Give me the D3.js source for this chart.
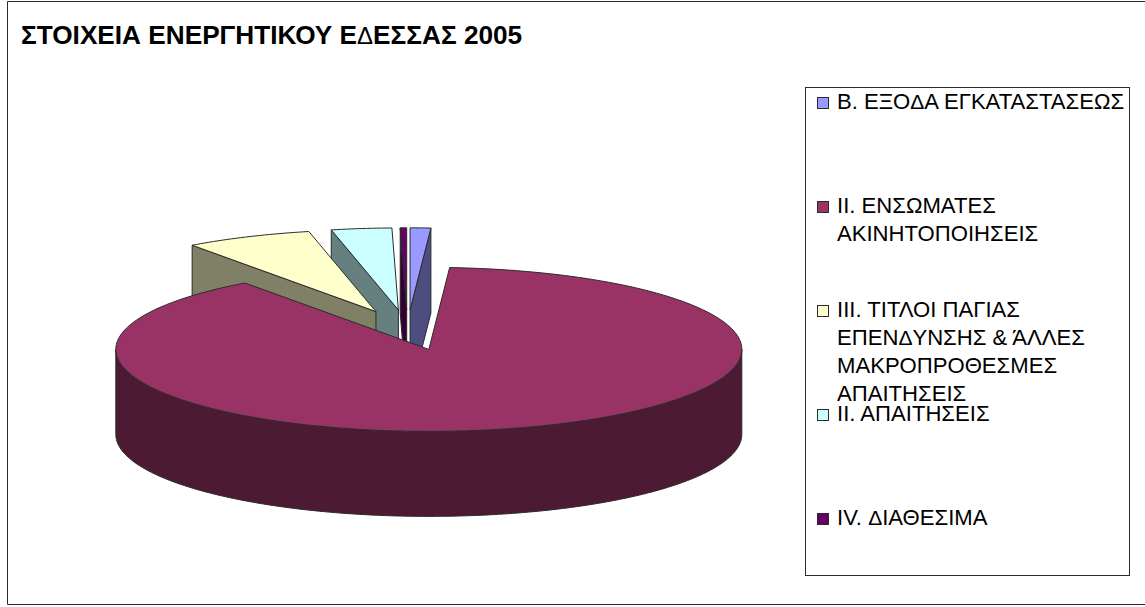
<!DOCTYPE html>
<html>
<head>
<meta charset="utf-8">
<style>
html,body{margin:0;padding:0;background:#fff;overflow:hidden}
svg{display:block}
text{font-family:"Liberation Sans",Arial,sans-serif;fill:#000}
</style>
<script src="https://cdn.jsdelivr.net/npm/d3@7"></script>
</head>
<body>
<svg id="c" width="1145" height="607"></svg>
<script>
const chartTitle = "ΣΤΟΙΧΕΙΑ ΕΝΕΡΓΗΤΙΚΟΥ ΕΔΕΣΣΑΣ 2005";
const categories = ["Β. ΕΞΟΔΑ ΕΓΚΑΤΑΣΤΑΣΕΩΣ","ΙΙ. ΕΝΣΩΜΑΤΕΣ ΑΚΙΝΗΤΟΠΟΙΗΣΕΙΣ","ΙΙΙ. ΤΙΤΛΟΙ ΠΑΓΙΑΣ ΕΠΕΝΔΥΝΣΗΣ & ΆΛΛΕΣ ΜΑΚΡΟΠΡΟΘΕΣΜΕΣ ΑΠΑΙΤΗΣΕΙΣ","ΙΙ. ΑΠΑΙΤΗΣΕΙΣ","ΙV. ΔΙΑΘΕΣΙΜΑ"];
const legendLines = [["Β. ΕΞΟΔΑ ΕΓΚΑΤΑΣΤΑΣΕΩΣ"],["ΙΙ. ΕΝΣΩΜΑΤΕΣ","ΑΚΙΝΗΤΟΠΟΙΗΣΕΙΣ"],["ΙΙΙ. ΤΙΤΛΟΙ ΠΑΓΙΑΣ","ΕΠΕΝΔΥΝΣΗΣ & ΆΛΛΕΣ","ΜΑΚΡΟΠΡΟΘΕΣΜΕΣ","ΑΠΑΙΤΗΣΕΙΣ"],["ΙΙ. ΑΠΑΙΤΗΣΕΙΣ"],["ΙV. ΔΙΑΘΕΣΙΜΑ"]];
const values = [1.06, 88.95, 6.55, 3.11, 0.33];
const topColors = ["#9999FF","#993366","#FFFFCC","#CCFFFF","#660066"];
const sideColors = ["#4D4D80","#4D1A33","#808066","#668080","#330033"];

const W=1145,H=607;
const cx=407.5, cy=330, rx=313, ry=82, depth=85, explode=77;
const svg=d3.select("#c");
const ink="#2b2b2b";

svg.append("rect").attr("width",W).attr("height",H).attr("fill","#fff");
svg.append("path").attr("d","M1145,1.5H7.5V604.5H1145").attr("fill","none").attr("stroke",ink).attr("stroke-width",1);

function addText(sel,str){
  str.split("Δ").forEach((p,i)=>{
    if(i>0) sel.append("tspan").attr("class","delta").text("Δ");
    if(p) sel.append("tspan").text(p);
  });
}
const title=svg.append("text").attr("x",21).attr("y",44).attr("font-size",26.2).attr("font-weight","bold");
addText(title,chartTitle);
title.selectAll(".delta").attr("font-weight","normal").attr("font-size",24);

// pie
const pie=d3.pie().sort(null).value(d=>d.v).startAngle(0).endAngle(2*Math.PI);
const arcs=pie(values.map((v,i)=>({v,i})));
const sx=d3.scaleLinear().domain([-1,1]).range([-rx,rx]);
const sy=d3.scaleLinear().domain([-1,1]).range([-ry,ry]);
const line=d3.line();
arcs.forEach(a=>{
  const mid=(a.startAngle+a.endAngle)/2;
  a.ox=cx+sx(Math.sin(mid))*explode/rx;
  a.oy=cy-sy(Math.cos(mid))*explode/rx;
});
const pt=(a,t,dz=0)=>[a.ox+sx(Math.sin(t)),a.oy-sy(Math.cos(t))+dz];
function samples(t0,t1){
  const n=Math.max(2,Math.ceil(Math.abs(t1-t0)*60));
  return d3.range(n+1).map(i=>t0+(t1-t0)*i/n);
}
const order=[4,3,2,0,1];
const g=svg.append("g").attr("stroke",ink).attr("stroke-width",1).attr("stroke-linejoin","round");
order.forEach(k=>{
  const a=arcs[k], i=a.data.i;
  const face=t=>{
    const c=[a.ox,a.oy], p=pt(a,t);
    g.append("path").attr("fill",sideColors[i])
      .attr("d",line([c,p,[p[0],p[1]+depth],[c[0],c[1]+depth]])+"Z");
  };
  if(Math.sin(a.startAngle)<-1e-6) face(a.startAngle);
  if(Math.sin(a.endAngle)>1e-6) face(a.endAngle);
  // front rim wall
  const lo=Math.max(a.startAngle,Math.PI/2), hi=Math.min(a.endAngle,3*Math.PI/2);
  if(hi>lo){
    const ts=samples(lo,hi);
    const upper=ts.map(t=>pt(a,t)), lower=ts.slice().reverse().map(t=>pt(a,t,depth));
    g.append("path").attr("fill",sideColors[i]).attr("d",line(upper.concat(lower))+"Z");
  }
  // top
  const top=[[a.ox,a.oy]].concat(samples(a.startAngle,a.endAngle).map(t=>pt(a,t)));
  g.append("path").attr("fill",topColors[i]).attr("d",line(top)+"Z");
});

// legend
svg.append("rect").attr("x",805.5).attr("y",87.5).attr("width",324).attr("height",488)
  .attr("fill","none").attr("stroke",ink).attr("stroke-width",1);
const ly=d3.scalePoint().domain(categories).range([103,519]);
categories.forEach((c,i)=>{
  const y=ly(c);
  svg.append("rect").attr("x",817.5).attr("y",y-5.5).attr("width",11).attr("height",11)
    .attr("fill",topColors[i]).attr("stroke",ink).attr("stroke-width",1);
  legendLines[i].forEach((l,j)=>{
    const t=svg.append("text").attr("x",837).attr("y",y+5.5+j*28).attr("font-size",22.1);
    addText(t,l);
    t.selectAll(".delta").attr("font-size",21);
  });
});
</script>
</body>
</html>
